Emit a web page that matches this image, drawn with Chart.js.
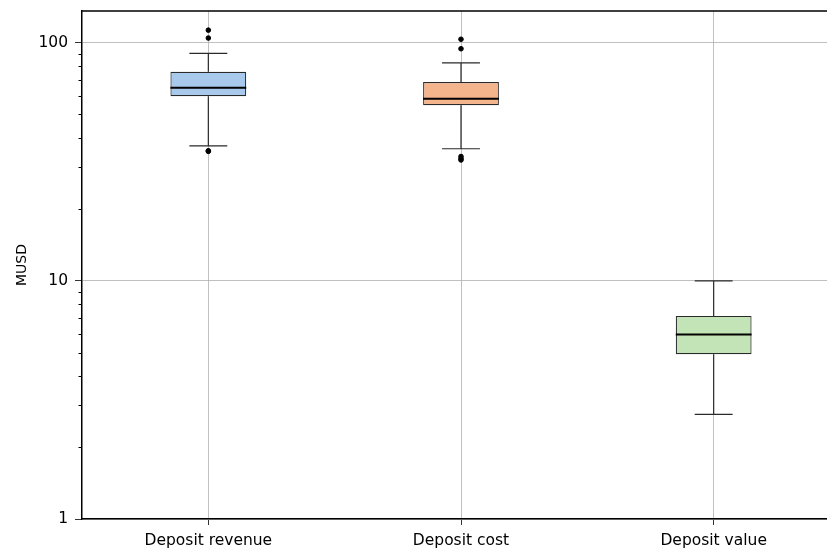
<!DOCTYPE html>
<html>
<head>
<meta charset="utf-8">
<script src="https://cdn.jsdelivr.net/npm/chart.js@4/dist/chart.umd.min.js"></script>
<style>
  html, body { margin: 0; padding: 0; background: #fff; overflow: hidden; }
  #wrap { width: 845px; height: 549px; }
</style>
</head>
<body>
<div id="wrap"><canvas id="c" width="845" height="549"></canvas></div>
<script>
// ## box plot stats (MUSD, log axis) ##
const categories = ["Deposit revenue", "Deposit cost", "Deposit value"];
const whiskerLow = [36.9, 35.9, 2.75];
const q1 = [59.7, 54.7, 4.92];
const medians = [64.7, 58.2, 5.95];
const q3 = [75.5, 68.4, 7.13];
const whiskerHigh = [90.2, 82.4, 10.0];
const outliers = [
  [113, 104.7, 35.2, 35.0],
  [103.5, 94.4, 33.3, 32.6, 32.2],
  [],
];
const boxColors = ["#a8c8ec", "#f4b48c", "#c2e4b6"];
const majorTicks = [1, 10, 100];
const minorTicks = [2, 3, 4, 5, 6, 7, 8, 9, 20, 30, 40, 50, 60, 70, 80, 90];

const FONT = "'DejaVu Sans', sans-serif";

// outlier points as a line dataset without line
var outlierPoints = [];
outliers.forEach(function (list, i) {
  list.forEach(function (v) {
    outlierPoints.push({ x: categories[i], y: v });
  });
});

// whiskers, caps, medians, top frame and minor ticks
const boxExtras = {
  id: "boxExtras",
  afterDatasetsDraw(chart) {
    const ctx = chart.ctx;
    const xs = chart.scales.x;
    const ys = chart.scales.y;
    const meta = chart.getDatasetMeta(0);
    ctx.save();
    for (var i = 0; i < categories.length; i++) {
      const x = xs.getPixelForValue(i);
      const bw = meta.data[i].width;
      const capHalf = bw / 4;
      ctx.strokeStyle = "#2a2a2a";
      ctx.lineWidth = 1.2;
      ctx.beginPath();
      ctx.moveTo(x, ys.getPixelForValue(q3[i]));
      ctx.lineTo(x, ys.getPixelForValue(whiskerHigh[i]));
      ctx.moveTo(x, ys.getPixelForValue(q1[i]));
      ctx.lineTo(x, ys.getPixelForValue(whiskerLow[i]));
      ctx.moveTo(x - capHalf, ys.getPixelForValue(whiskerHigh[i]));
      ctx.lineTo(x + capHalf, ys.getPixelForValue(whiskerHigh[i]));
      ctx.moveTo(x - capHalf, ys.getPixelForValue(whiskerLow[i]));
      ctx.lineTo(x + capHalf, ys.getPixelForValue(whiskerLow[i]));
      ctx.stroke();
      // median
      ctx.strokeStyle = "#000";
      ctx.lineWidth = 2;
      ctx.beginPath();
      const my = ys.getPixelForValue(medians[i]);
      ctx.moveTo(x - bw / 2, my);
      ctx.lineTo(x + bw / 2, my);
      ctx.stroke();
    }
    // frame top (right side falls outside the window)
    const a = chart.chartArea;
    ctx.strokeStyle = "#000";
    ctx.lineWidth = 1.5;
    ctx.beginPath();
    ctx.moveTo(a.left, a.top);
    ctx.lineTo(a.right + 5, a.top);
    ctx.stroke();
    // minor ticks
    ctx.lineWidth = 1;
    ctx.beginPath();
    minorTicks.forEach(function (v) {
      const y = Math.round(ys.getPixelForValue(v)) + 0.5;
      ctx.moveTo(a.left - 3.5, y);
      ctx.lineTo(a.left, y);
    });
    ctx.stroke();
    ctx.restore();
  },
};

const ctx = document.getElementById("c").getContext("2d");
new Chart(ctx, {
  type: "bar",
  data: {
    labels: categories,
    datasets: [
      {
        data: categories.map(function (c, i) { return [q1[i], q3[i]]; }),
        backgroundColor: boxColors,
        borderColor: "#2a2a2a",
        borderWidth: 1.2,
        borderSkipped: false,
        barPercentage: 0.3,
        categoryPercentage: 1,
        order: 2,
      },
      {
        type: "line",
        data: outlierPoints,
        showLine: false,
        pointRadius: 2.3,
        pointBackgroundColor: "#000",
        pointBorderColor: "#000",
        order: 1,
      },
    ],
  },
  options: {
    responsive: false,
    animation: false,
    devicePixelRatio: 1,
    layout: { padding: { top: 11, right: 5, left: 0, bottom: 0 } },
    plugins: { legend: { display: false }, tooltip: { enabled: false } },
    scales: {
      x: {
        type: "category",
        offset: true,
        grid: {
          offset: false,
          color: "#b0b0b0",
          lineWidth: 0.8,
          tickColor: "#000",
          tickLength: 6,
        },
        border: { color: "#000", width: 1.5 },
        ticks: { color: "#000", font: { family: FONT, size: 15.5 }, padding: 7 },
        afterFit(scale) {
          scale.height = 30;
          scale.paddingLeft = 0;
          scale.paddingRight = 0;
        },
      },
      y: {
        type: "logarithmic",
        min: 1,
        max: 136,
        afterBuildTicks(scale) {
          scale.ticks = majorTicks.map(function (v) { return { value: v }; });
        },
        grid: {
          color: "#b0b0b0",
          lineWidth: 0.8,
          tickColor: "#000",
          tickLength: 7,
        },
        border: { color: "#000", width: 1.5 },
        ticks: {
          color: "#000",
          font: { family: FONT, size: 15.5 },
          padding: 7,
          callback: function (v) { return String(v); },
        },
        title: {
          display: true,
          text: "MUSD",
          color: "#000",
          font: { family: FONT, size: 14 },
          padding: { top: 14, bottom: 4 },
        },
        afterFit(scale) {
          scale.width = 82;
          scale.paddingTop = 0;
          scale.paddingBottom = 0;
        },
      },
    },
  },
  plugins: [boxExtras],
});
</script>
</body>
</html>
